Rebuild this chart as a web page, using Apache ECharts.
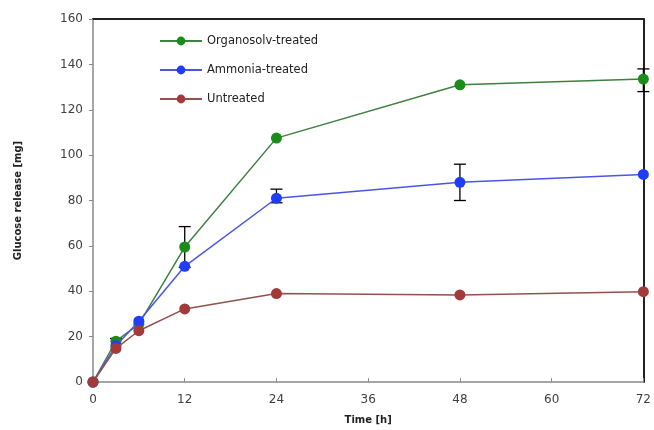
<!DOCTYPE html>
<html><head><meta charset="utf-8">
<script src="https://cdn.jsdelivr.net/npm/echarts@6/dist/echarts.min.js"></script>
<style>html,body{margin:0;padding:0;background:#fff}#c{width:654px;height:430px}</style>
</head><body><div id="c"></div>
<script>
const times = [0, 3, 6, 12, 24, 48, 72];
const organosolv = [0, 18, 25.5, 59.5, 107.5, 131, 133.5];
const ammonia = [0, 16, 26.8, 51, 81, 88, 91.5];
const untreated = [0, 14.8, 22.6, 32.2, 39, 38.4, 39.8];
const organosolvErrUp = [0, 1.2, 0, 9, 0, 0, 4.5];
const organosolvErrDown = [0, 0, 0, 9, 0, 0, 5.5];
const ammoniaErrUp = [0, 0, 0, 0, 4, 8, 0];
const ammoniaErrDown = [0, 0, 0, 0, 2, 8, 0];
const untreatedErrUp = [0, 0, 0, 0, 0, 0, 0];
const untreatedErrDown = [0, 0, 0, 0, 0, 0, 0];
const xTicks = [0, 12, 24, 36, 48, 60, 72];
const yTicks = [0, 20, 40, 60, 80, 100, 120, 140, 160];
const names = ['Organosolv-treated', 'Ammonia-treated', 'Untreated'];

const chart = echarts.init(document.getElementById('c'), null, {renderer: 'canvas'});
const font = 'DejaVu Sans';
function pts(v) { return times.map((t, i) => [t, v[i]]); }
function errData(v, up, dn) { return times.map((t, i) => [t, v[i], up[i], dn[i]]).filter(d => d[2] > 0 || d[3] > 0); }
const colors = ['#1a8c1a', '#1f3dff', '#a33a3a'];
const lineColors = ['#3d8040', '#4a55e8', '#93504f'];
const errSeries = (v, up, dn) => ({
  type: 'custom', silent: true, z: 2,
  data: errData(v, up, dn),
  renderItem: (params, api) => {
    const x = api.value(0), y = api.value(1), eu = api.value(2), ed = api.value(3);
    const top = api.coord([x, y + eu]), bot = api.coord([x, y - ed]);
    const w = 6;
    const ch = [{type: 'line', shape: {x1: top[0], y1: top[1], x2: bot[0], y2: bot[1]}, style: {stroke: '#000', lineWidth: 1.3}}];
    if (eu > 0) ch.push({type: 'line', shape: {x1: top[0]-w, y1: top[1], x2: top[0]+w, y2: top[1]}, style: {stroke: '#000', lineWidth: 1.3}});
    if (ed > 0) ch.push({type: 'line', shape: {x1: bot[0]-w, y1: bot[1], x2: bot[0]+w, y2: bot[1]}, style: {stroke: '#000', lineWidth: 1.3}});
    return {type: 'group', children: ch};
  }
});
const lineSeries = (name, v, i) => ({
  name, type: 'line', data: pts(v), clip: false, z: 3 + i,
  symbol: 'circle', symbolSize: 11,
  lineStyle: {color: lineColors[i], width: 1.5},
  itemStyle: {color: colors[i], opacity: 1},
  emphasis: {disabled: true}
});
chart.setOption({
  animation: false,
  textStyle: {fontFamily: font},
  grid: {left: 93, right: 8, top: 19, bottom: 48},
  legend: {
    orient: 'vertical', left: 154, top: 30, itemGap: 17,
    itemWidth: 42, itemHeight: 11,
    textStyle: {fontFamily: font, fontSize: 11.5, color: '#222'},
    data: names
  },
  xAxis: [{
    type: 'value', min: 0, max: 72, interval: 12,
    name: 'Time [h]', nameLocation: 'middle', nameGap: 33,
    nameTextStyle: {fontFamily: font, fontSize: 10, fontWeight: 'bold', color: '#222'},
    axisLine: {show: true, lineStyle: {color: '#888', width: 1.5}},
    axisTick: {show: true, inside: true, length: 4, lineStyle: {color: '#888'}},
    axisLabel: {fontSize: 12, color: '#404040', margin: 12, customValues: xTicks},
    splitLine: {show: false}
  }, {
    type: 'value', min: 0, max: 72, position: 'top',
    axisLine: {show: true, onZero: false, lineStyle: {color: '#222', width: 2}},
    axisTick: {show: false}, axisLabel: {show: false}, splitLine: {show: false}
  }],
  yAxis: [{
    type: 'value', min: 0, max: 160, interval: 20,
    name: 'Glucose release [mg]', nameLocation: 'middle', nameGap: 70,
    nameTextStyle: {fontFamily: font, fontSize: 10, fontWeight: 'bold', color: '#222'},
    axisLine: {show: true, lineStyle: {color: '#888', width: 1.5}},
    axisTick: {show: true, inside: false, length: 4, lineStyle: {color: '#888'}},
    axisLabel: {fontSize: 12, color: '#404040', margin: 10, customValues: yTicks},
    splitLine: {show: false}
  }, {
    type: 'value', min: 0, max: 160, position: 'right',
    axisLine: {show: true, onZero: false, lineStyle: {color: '#222', width: 2}},
    axisTick: {show: false}, axisLabel: {show: false}, splitLine: {show: false}
  }],
  series: [
    errSeries(organosolv, organosolvErrUp, organosolvErrDown),
    errSeries(ammonia, ammoniaErrUp, ammoniaErrDown),
    errSeries(untreated, untreatedErrUp, untreatedErrDown),
    lineSeries(names[0], organosolv, 0),
    lineSeries(names[1], ammonia, 1),
    lineSeries(names[2], untreated, 2)
  ]
});
</script></body></html>
